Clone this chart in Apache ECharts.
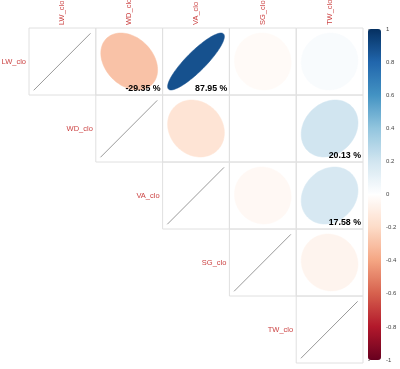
<!DOCTYPE html>
<html>
<head>
<meta charset="utf-8">
<script src="https://cdn.jsdelivr.net/npm/echarts@6/dist/echarts.min.js"></script>
<style>html,body{margin:0;padding:0;background:#fff}#c{width:400px;height:369px}</style>
</head>
<body>
<div id="c"></div>
<script>
const labels = ['LW_clo', 'WD_clo', 'VA_clo', 'SG_clo', 'TW_clo'];
const corrLW = [1, -0.2935, 0.8795, -0.03, 0.03];
const corrWD = [-0.2935, 1, -0.15, 0.0, 0.2013];
const corrVA = [0.8795, -0.15, 1, -0.04, 0.1758];
const corrSG = [-0.03, 0.0, -0.04, 1, -0.06];
const corrTW = [0.03, 0.2013, 0.1758, -0.06, 1];
const corrMatrix = [corrLW, corrWD, corrVA, corrSG, corrTW];
// cells (row, col) that show a percentage label
const pctRows = [0, 0, 1, 2];
const pctCols = [1, 2, 4, 4];
const colorTicks = [1, 0.8, 0.6, 0.4, 0.2, 0, -0.2, -0.4, -0.6, -0.8, -1];
const palette = ['#67001F', '#B2182B', '#D6604D', '#F4A582', '#FDDBC7', '#FFFFFF',
                 '#D1E5F0', '#92C5DE', '#4393C3', '#2166AC', '#053061'];

const cells = [];
for (let i = 0; i < labels.length; i++) {
  for (let j = i; j < labels.length; j++) {
    let show = 0;
    for (let k = 0; k < pctRows.length; k++) if (pctRows[k] === i && pctCols[k] === j) show = 1;
    cells.push([j + 0.5, i + 0.5, corrMatrix[i][j], i, j, show]);
  }
}

const FONT = '"Liberation Sans", Arial, Helvetica, sans-serif';
const LABEL_COLOR = '#cc4444';

function renderCell(params, api) {
  const c = api.coord([api.value(0), api.value(1)]);
  const s = api.size([1, 1]);
  const w = s[0], h = s[1];
  const r = api.value(2);
  const i = api.value(3), j = api.value(4);
  const show = api.value(5);
  const children = [];
  children.push({
    type: 'rect',
    shape: { x: c[0] - w / 2, y: c[1] - h / 2, width: w, height: h },
    style: { fill: 'none', stroke: '#e0e0e0', lineWidth: 1 }
  });
  if (i === j) {
    children.push({
      type: 'line',
      shape: { x1: c[0] - 0.43 * w, y1: c[1] + 0.43 * h, x2: c[0] + 0.42 * w, y2: c[1] - 0.42 * h },
      style: { stroke: '#999', lineWidth: 1 }
    });
    children.push({
      type: 'text',
      x: c[0] - w / 2 - 3, y: c[1],
      style: { text: labels[i], fill: LABEL_COLOR, font: '7.5px ' + FONT, align: 'right', verticalAlign: 'middle' }
    });
  } else {
    const d = Math.acos(r);
    const pts = [];
    const sc = 0.85;
    for (let k = 0; k < 100; k++) {
      const t = k / 100 * Math.PI * 2;
      const x = sc * Math.cos(t + d / 2) / 2;
      const y = sc * Math.cos(t - d / 2) / 2;
      pts.push([c[0] + x * w, c[1] - y * h]);
    }
    const col = api.visual('color');
    children.push({
      type: 'polygon',
      shape: { points: pts },
      style: { fill: col, stroke: col, lineWidth: 0.5 }
    });
    if (show) {
      children.push({
        type: 'text',
        x: c[0] + w / 2 - 2, y: c[1] + h / 2 - 2,
        style: { text: (r * 100).toFixed(2) + ' %', fill: '#000', font: 'bold 8.8px ' + FONT, align: 'right', verticalAlign: 'bottom' }
      });
    }
  }
  return { type: 'group', children: children };
}

function renderColLabels(params, api) {
  const c = api.coord([api.value(0), 0]);
  return {
    type: 'text',
    x: c[0], y: c[1] - 3,
    rotation: Math.PI / 2,
    style: { text: labels[api.value(1)], fill: LABEL_COLOR, font: '7.5px ' + FONT, align: 'left', verticalAlign: 'middle' }
  };
}

const chart = echarts.init(document.getElementById('c'), null, { renderer: 'canvas' });
chart.setOption({
  animation: false,
  grid: [
    { left: 29, top: 28, width: 334, height: 335 },
    { left: 368, top: 29, width: 13, height: 331 }
  ],
  xAxis: [
    { type: 'value', min: 0, max: 5, show: false, gridIndex: 0 },
    { type: 'value', min: 0, max: 1, show: false, gridIndex: 1 }
  ],
  yAxis: [
    { type: 'value', min: 0, max: 5, inverse: true, show: false, gridIndex: 0 },
    {
      type: 'value', min: -1, max: 1, interval: 0.2, gridIndex: 1, position: 'right',
      axisLine: { show: false },
      splitLine: { show: false },
      axisTick: { show: true, length: 2, lineStyle: { color: '#777', width: 0.6 } },
      axisLabel: { fontSize: 6, color: '#444', margin: 5, fontFamily: FONT,
        formatter: function (v) { return String(Math.round(v * 10) / 10); } }
    }
  ],
  visualMap: {
    type: 'continuous',
    min: -1, max: 1,
    dimension: 2,
    seriesIndex: 0,
    calculable: false,
    text: ['', ''],
    showLabel: false,
    left: 368, top: 29,
    itemWidth: 13, itemHeight: 331,
    padding: 0,
    inRange: { color: palette }
  },
  series: [
    {
      type: 'custom',
      xAxisIndex: 0, yAxisIndex: 0,
      renderItem: renderCell,
      data: cells,
      silent: true
    },
    {
      type: 'custom',
      xAxisIndex: 0, yAxisIndex: 0,
      renderItem: renderColLabels,
      data: labels.map((l, k) => [k + 0.5, k]),
      silent: true
    },
    {
      type: 'custom',
      xAxisIndex: 1, yAxisIndex: 1,
      renderItem: function () { return null; },
      data: colorTicks.map(v => [0, v])
    }
  ]
});
</script>
</body>
</html>
